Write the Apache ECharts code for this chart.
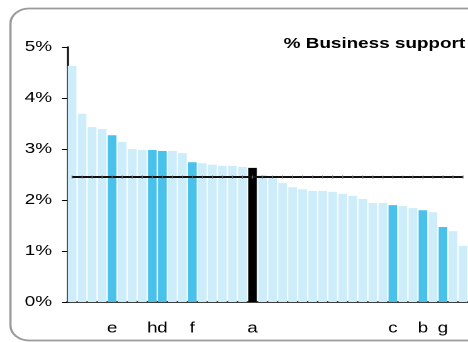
<!DOCTYPE html>
<html>
<head>
<meta charset="utf-8">
<script src="https://cdn.jsdelivr.net/npm/echarts@6/dist/echarts.min.js"></script>
<style>
html,body{margin:0;padding:0;background:#fff;overflow:hidden;width:468px;height:342px;}
#c{width:372px;height:342px;transform:scaleX(1.2581);transform-origin:0 0;}
</style>
</head>
<body>
<div id="c"></div>
<script>
// Data
var titleText = '% Business support';
var labels = ['', '', '', '', 'e', '', '', '', 'h', 'd',
              '', '', 'f', '', '', '', '', '', 'a', '',
              '', '', '', '', '', '', '', '', '', '',
              '', '', 'c', '', '', 'b', '', 'g', '', ''];
var values = [4.63, 3.69, 3.43, 3.39, 3.27, 3.14, 3.00, 2.98, 2.98, 2.96,
              2.96, 2.92, 2.74, 2.72, 2.69, 2.67, 2.67, 2.65, 2.63, 2.49,
              2.43, 2.33, 2.25, 2.21, 2.18, 2.18, 2.16, 2.12, 2.08, 2.02,
              1.94, 1.94, 1.90, 1.88, 1.84, 1.80, 1.76, 1.47, 1.39, 1.10];
var averageValue = 2.45;
var yTicks = [0, 1, 2, 3, 4, 5];

var categories = values.map(function (v, i) { return String(i + 1); });
var avgLine = values.map(function () { return averageValue; });

var chart = echarts.init(document.getElementById('c'), null, {devicePixelRatio: 2});
chart.setOption({
  animation: false,
  backgroundColor: '#fff',
  graphic: [{
    type: 'rect',
    shape: {x: 8.3, y: 8.5, width: 420, height: 332, r: 15},
    style: {fill: 'none', stroke: '#9a9a9a', lineWidth: 1.8},
    silent: true, z: -1
  }],
  title: {
    text: titleText,
    left: 225.5, top: 36.5, padding: 0,
    textStyle: {fontFamily: 'Liberation Sans, Arial, sans-serif', fontSize: 15, fontWeight: 'bold', color: '#000'}
  },
  grid: {left: 53.3, right: 0, top: 47, bottom: 40, containLabel: false},
  xAxis: {
    type: 'category',
    data: categories,
    axisLine: {lineStyle: {color: '#000', width: 1.5}},
    axisTick: {show: false},
    axisLabel: {
      interval: 0, margin: 19,
      fontFamily: 'Liberation Sans, Arial, sans-serif', fontSize: 15, color: '#000',
      formatter: function (v, i) { return labels[i]; }
    }
  },
  yAxis: {
    type: 'value',
    min: yTicks[0], max: yTicks[yTicks.length - 1], interval: 1,
    axisLine: {show: true, lineStyle: {color: '#000', width: 1.5}},
    axisTick: {show: true, length: 4, lineStyle: {color: '#000', width: 1}},
    splitLine: {show: false},
    axisLabel: {
      margin: 12,
      fontFamily: 'Liberation Sans, Arial, sans-serif', fontSize: 15, color: '#000',
      formatter: '{value}%'
    }
  },
  series: [{
    type: 'bar',
    data: values,
    barCategoryGap: '14%',
    itemStyle: {
      color: function (p) {
        var l = labels[p.dataIndex];
        if (l === 'a') return '#000000';
        if (l) return '#48C1EB';
        return '#CCEDF9';
      }
    }
  }, {
    type: 'line',
    data: avgLine,
    z: 5,
    lineStyle: {color: '#111', width: 2},
    symbol: 'rect',
    symbolSize: [0.8, 3],
    itemStyle: {color: '#666'}
  }]
});
</script>
</body>
</html>
